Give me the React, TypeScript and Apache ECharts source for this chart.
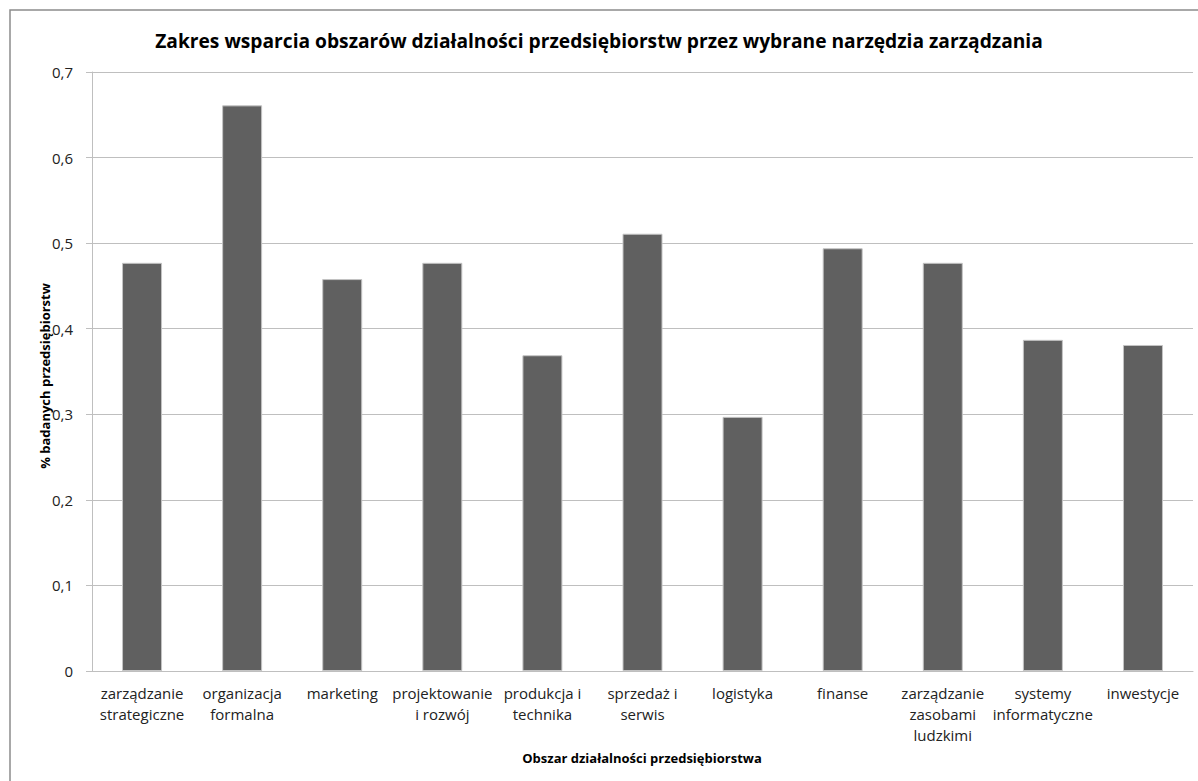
import React, { useEffect, useRef } from "react";
import * as echarts from "echarts";

const chartTitle = "Zakres wsparcia obszarów działalności przedsiębiorstw przez wybrane narzędzia zarządzania";
const xAxisTitle = "Obszar działalności przedsiębiorstwa";
const yAxisTitle = "% badanych przedsiębiorstw";

const categories = [
  "zarządzanie\nstrategiczne",
  "organizacja\nformalna",
  "marketing",
  "projektowanie\ni rozwój",
  "produkcja i\ntechnika",
  "sprzedaż i\nserwis",
  "logistyka",
  "finanse",
  "zarządzanie\nzasobami\nludzkimi",
  "systemy\ninformatyczne",
  "inwestycje",
];

const values = [0.477, 0.661, 0.458, 0.477, 0.369, 0.511, 0.297, 0.494, 0.477, 0.387, 0.381];

const FONT = "Open Sans";

export default function App() {
  const ref = useRef<HTMLDivElement>(null);
  useEffect(() => {
    document.body.style.margin = "0";
    const chart = echarts.init(ref.current!, null, { renderer: "svg" });
    chart.setOption({
      animation: false,
      backgroundColor: "#ffffff",
      textStyle: { fontFamily: FONT },
      grid: { left: 92, right: 5, top: 72, bottom: 110, containLabel: false },
      graphic: [
        {
          type: "rect",
          shape: { x: 10, y: 10, width: 1300, height: 900 },
          style: { fill: "none", stroke: "#8c8c8c", lineWidth: 1.5 },
          silent: true,
        },
        {
          type: "text",
          x: 599,
          y: 40,
          style: {
            text: chartTitle,
            fontFamily: FONT,
            fontWeight: "bold",
            fontSize: 19.2,
            fill: "#000",
            align: "center",
            verticalAlign: "middle",
          },
        },
        {
          type: "text",
          x: 642,
          y: 758,
          style: {
            text: xAxisTitle,
            fontFamily: FONT,
            fontWeight: "bold",
            fontSize: 13,
            fill: "#000",
            align: "center",
            verticalAlign: "middle",
          },
        },
        {
          type: "text",
          x: 45,
          y: 376,
          rotation: Math.PI / 2,
          style: {
            text: yAxisTitle,
            fontFamily: FONT,
            fontWeight: "bold",
            fontSize: 13,
            fill: "#000",
            align: "center",
            verticalAlign: "middle",
          },
        },
      ],
      xAxis: {
        type: "category",
        data: categories,
        axisLine: { show: true, lineStyle: { color: "#bfbfbf", width: 1 } },
        axisTick: { show: false },
        axisLabel: {
          interval: 0,
          margin: 11,
          fontFamily: FONT,
          fontSize: 15,
          lineHeight: 21,
          color: "#222",
          align: "center",
          verticalAlign: "top",
        },
      },
      yAxis: {
        type: "value",
        min: 0,
        max: 0.7,
        interval: 0.1,
        axisLine: { show: true, lineStyle: { color: "#bfbfbf", width: 1 } },
        axisTick: { show: true, length: 6, lineStyle: { color: "#bfbfbf" } },
        splitLine: { show: true, lineStyle: { color: "#bfbfbf", width: 1 } },
        axisLabel: {
          margin: 19,
          fontFamily: FONT,
          fontSize: 15,
          color: "#222",
          formatter: (v: number) => (v === 0 ? "0" : v.toFixed(1).replace(".", ",")),
        },
      },
      series: [
        {
          type: "bar",
          data: values,
          barWidth: 40,
          itemStyle: { color: "#606060", borderColor: "#c4c4c4", borderWidth: 1 },
        },
      ],
    });
    return () => chart.dispose();
  }, []);
  return <div ref={ref} style={{ width: 1198, height: 781 }} />;
}
